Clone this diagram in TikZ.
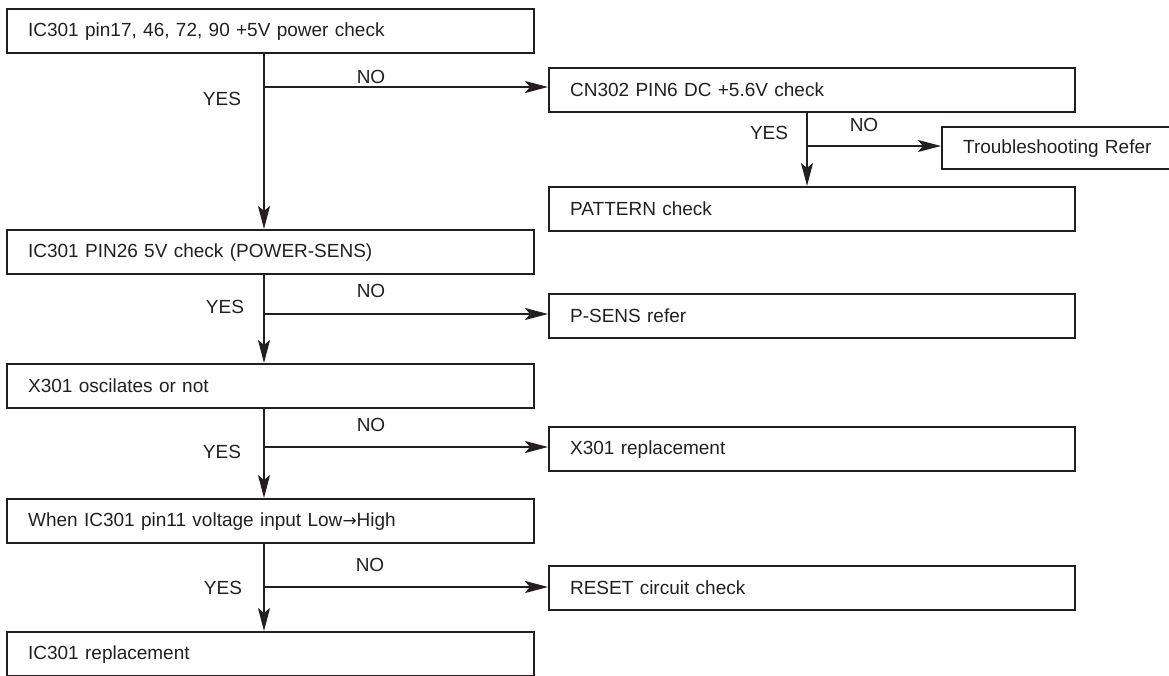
\documentclass[tikz,border=0pt]{standalone}
\usepackage{fontspec}
\setmainfont{Liberation Sans}
\newfontfamily\arrowfont{DejaVu Sans}
\usetikzlibrary{arrows.meta}
\definecolor{ink}{HTML}{231F20}

\begin{document}
\begin{tikzpicture}[x=1pt, y=-1pt, color=ink,
  chk/.style={draw, line width=2.2pt, anchor=north west, minimum height=44pt,
              inner xsep=21pt, inner ysep=0pt, align=left,
              font=\fontsize{19}{23}\selectfont},
  lft/.style={chk, text width=485pt},
  rgt/.style={chk, text width=484pt},
  tag/.style={font=\fontsize{19}{23}\selectfont},
  flow/.style={line width=2.2pt, -{Stealth[length=23pt,width=12pt,inset=5pt]}}]
  \useasboundingbox (0,0) rectangle (1169,676);

  \node[lft] (b1) at (6,8) {IC301 pin17, 46, 72, 90 +5V power check};
  \node[rgt] (b2) at (548,67) {CN302 PIN6 DC +5.6V check};
  \node[chk, minimum height=42pt, text width=200pt] (b3) at (941,126) {Troubleshooting Refer};
  \node[rgt] (b4) at (548,186) {PATTERN check};
  \node[lft] (b5) at (6,229) {IC301 PIN26 5V check (POWER-SENS)};
  \node[rgt] (b6) at (548,293) {P-SENS refer};
  \node[lft] (b7) at (6,363) {X301 oscilates or not};
  \node[rgt] (b8) at (548,426) {X301 replacement};
  \node[lft] (b9) at (6,498) {When IC301 pin11 voltage input Low{\arrowfont\fontsize{17}{23}\selectfont →}High};
  \node[rgt] (b10) at (548,565) {RESET circuit check};
  \node[lft] (b11) at (6,631) {IC301 replacement};

  \coordinate (j1) at (264,87);
  \coordinate (j2) at (807,146);
  \coordinate (j5) at (264,314);
  \coordinate (j7) at (264,447);
  \coordinate (j9) at (264,587);

  \node[tag] (no1) at (371,77) {NO};
  \node[tag] (yes1) at (222,99) {YES};
  \node[tag] (no2) at (864,125) {NO};
  \node[tag] (yes2) at (769,133) {YES};
  \node[tag] (no5) at (371,291) {NO};
  \node[tag] (yes5) at (225,307) {YES};
  \node[tag] (no7) at (371,425) {NO};
  \node[tag] (yes7) at (222,452) {YES};
  \node[tag] (no9) at (370,565) {NO};
  \node[tag] (yes9) at (223,588) {YES};

  \draw[flow] (j1 |- b1.south) -- (j1 |- b5.north);
  \draw[flow] (j1) -- (j1 -| b2.west);
  \draw[flow] (j2 |- b2.south) -- (j2 |- b4.north);
  \draw[flow] (j2) -- (j2 -| b3.west);
  \draw[flow] (j5 |- b5.south) -- (j5 |- b7.north);
  \draw[flow] (j5) -- (j5 -| b6.west);
  \draw[flow] (j7 |- b7.south) -- (j7 |- b9.north);
  \draw[flow] (j7) -- (j7 -| b8.west);
  \draw[flow] (j9 |- b9.south) -- (j9 |- b11.north);
  \draw[flow] (j9) -- (j9 -| b10.west);
\end{tikzpicture}
\end{document}
